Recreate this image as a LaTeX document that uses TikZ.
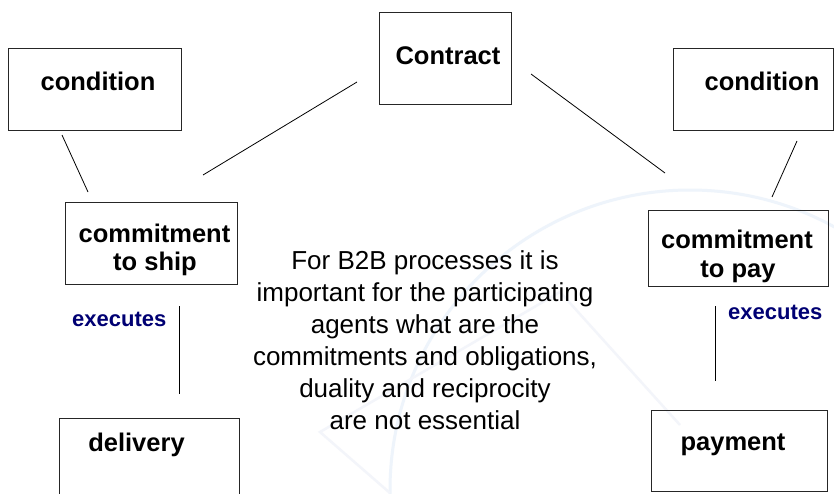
\documentclass[tikz,border=0pt]{standalone}
\usepackage{fontspec}
\setmainfont{Liberation Sans}
\usetikzlibrary{calc}
\definecolor{execblue}{RGB}{0,0,115}
\definecolor{markblue}{RGB}{238,244,251}
\definecolor{markgrey}{RGB}{243,245,250}

\begin{document}
\begin{tikzpicture}[x=1pt, y=-1pt,
    box/.style={draw=black!85, line width=1pt, inner sep=0pt},
    lbl/.style={font=\fontsize{25.5}{28}\selectfont\bfseries, anchor=base, inner sep=0pt},
    exec/.style={font=\fontsize{22}{26}\selectfont\bfseries, text=execblue, anchor=base west, inner sep=0pt},
    body/.style={font=\fontsize{26}{32}\selectfont, anchor=base, inner sep=0pt},
    link/.style={line width=0.8pt}]
    \clip (0,0) rectangle (834,493);
    \fill[white] (0,0) rectangle (834,493);
    % faint watermark
    \draw[markblue, line width=3pt] (690,490) circle[radius=300pt];
    \draw[markgrey, line width=2.5pt] (390,493) -- (320,432) -- (560,292) -- (680,425);
    % boxes
    \node[box, minimum width=173, minimum height=82] (condL) at (94.5,89) {};
    \node[box, minimum width=132, minimum height=92] (contract) at (445,58) {};
    \node[box, minimum width=160, minimum height=82] (condR) at (753,89) {};
    \node[box, minimum width=172, minimum height=82] (ship) at (151,243) {};
    \node[box, minimum width=180, minimum height=76] (pay) at (738,248) {};
    \node[box, minimum width=180, minimum height=92] (deliv) at (149,464) {};
    \node[box, minimum width=176, minimum height=81] (paym) at (739,450.5) {};
    % box texts
    \node[lbl] (condLt) at (98,90) {condition};
    \node[lbl] (contractt) at (448,64) {Contract};
    \node[lbl] (condRt) at (762,90) {condition};
    \node[lbl] (shipt) at (154.5,242) {commitment};
    \node[lbl] (shipu) at (155,270) {to ship};
    \node[lbl] (payt) at (737,248) {commitment};
    \node[lbl] (payu) at (738,277) {to pay};
    \node[lbl] (delivt) at (136.5,451) {delivery};
    \node[lbl] (paymt) at (733,450) {payment};
    \node[exec] (execL) at (72,326) {executes};
    \node[exec] (execR) at (728,319) {executes};
    % middle note
    \foreach \txt [count=\i] in {For B2B processes it is, important for the participating,
        agents what are the, {commitments and obligations,}, duality and reciprocity,
        are not essential}
        \node[body] (note\i) at (425,237+32*\i) {\txt};
    % line ends
    \coordinate (c1a) at (62,135);  \coordinate (c1b) at (88,192);
    \coordinate (c2a) at (203,175); \coordinate (c2b) at (357,82);
    \coordinate (c3a) at (531,74);  \coordinate (c3b) at (665,173);
    \coordinate (c4a) at (797,141); \coordinate (c4b) at (772,197);
    \coordinate (c5a) at (179,306); \coordinate (c5b) at (179,394);
    \coordinate (c6a) at (715,306); \coordinate (c6b) at (715,381);
    \foreach \k in {1,...,6} \draw[link] (c\k a) -- (c\k b);
\end{tikzpicture}
\end{document}
